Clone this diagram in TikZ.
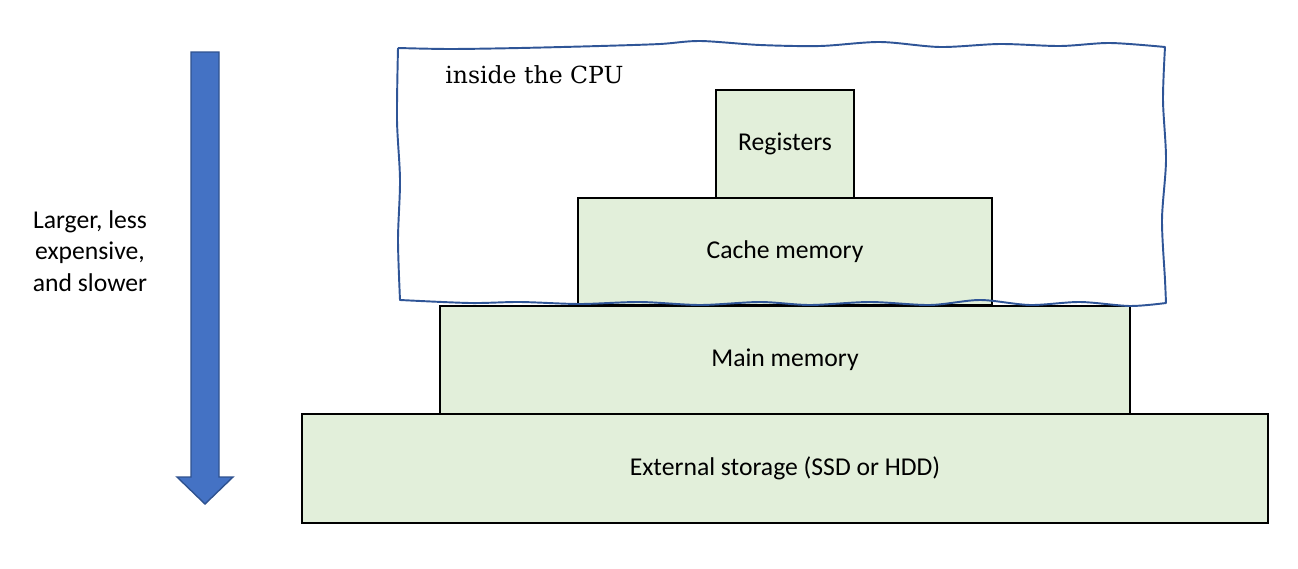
\documentclass[tikz,border=0pt]{standalone}
\usepackage{fontspec}
\setmainfont{Carlito}
\newfontfamily\cpufont{DejaVu Serif}
\definecolor{layergreen}{HTML}{E2EFDA}
\definecolor{cpublue}{HTML}{2F5597}
\definecolor{arrowblue}{HTML}{4472C4}
\definecolor{arrowedge}{HTML}{2F528F}
\tikzset{
  layer/.style={draw=black, fill=layergreen, line width=1pt, inner sep=0pt,
    font=\fontsize{14.6}{17}\selectfont},
}
\begin{document}
\begin{tikzpicture}[x=0.02cm, y=-0.02cm]
\useasboundingbox (0,0) rectangle (1298,568);
% memory levels
\node[layer, minimum width=19.32cm, minimum height=2.18cm] (ext) at (785,468.5) {External storage (SSD or HDD)};
\node[layer, minimum width=13.8cm, minimum height=2.16cm] (main) at (785,360) {Main memory};
\node[layer, minimum width=8.28cm, minimum height=2.14cm] (cache) at (785,251.5) {Cache memory};
\node[layer, minimum width=2.76cm, minimum height=2.16cm] (reg) at (785,144) {Registers};
% hand drawn CPU border
\draw[cpublue, line width=1.1pt, line join=round]
  plot[smooth] coordinates {(398,48) (450,49) (520,48) (600,46) (660,44) (700,41) (760,45) (820,46) (880,42) (940,47) (1000,44) (1060,46) (1110,43) (1165,47)}
  -- plot[smooth] coordinates {(1165,47) (1163,100) (1166,160) (1162,220) (1165,280) (1166,303)}
  -- plot[smooth] coordinates {(1166,303) (1130,306) (1080,302) (1030,305) (980,300) (930,305) (870,302) (810,305) (760,302) (700,305) (640,302) (580,304) (520,302) (470,303) (400,300)}
  -- plot[smooth] coordinates {(400,300) (398,240) (400,180) (397,120) (398,48)};
\node[anchor=west, inner sep=0pt, font=\cpufont\fontsize{13.4}{16}\selectfont] (cpu) at (445,75) {inside the CPU};
% arrow
\draw[arrowedge, fill=arrowblue, line width=0.8pt, line join=miter]
  (191,52) -- (219,52) -- (219,477) -- (233,477) -- (205,504) -- (177,477) -- (191,477) -- cycle;
\node[align=center, inner sep=0pt, font=\fontsize{14.6}{18}\selectfont] (note) at (90,251) {Larger, less\\expensive,\\and slower};
\end{tikzpicture}
\end{document}
